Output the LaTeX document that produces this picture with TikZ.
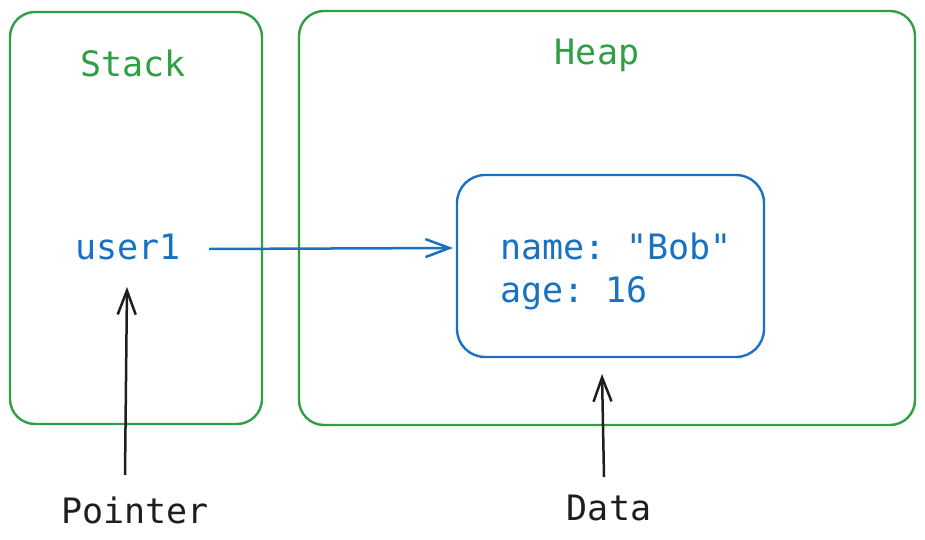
\documentclass[tikz,border=0pt]{standalone}
\usepackage{fontspec}
\setmonofont{DejaVu Sans Mono}
\usetikzlibrary{arrows.meta}
\definecolor{exgreen}{HTML}{2F9E44}
\definecolor{exblue}{HTML}{1971C2}
\definecolor{exblack}{HTML}{1E1E1E}
\tikzset{
  region/.style={draw=exgreen, line width=2.4pt, rounded corners=25pt},
  recbox/.style={draw=exblue, line width=2.4pt, rounded corners=28pt},
  lbl/.style={font=\ttfamily\fontsize{35}{43}\selectfont, inner sep=0pt},
  conn/.style={line width=2.5pt, -{Straight Barb[length=24pt,width=18pt,line width=2.5pt]}}
}
\begin{document}
\begin{tikzpicture}[x=1pt,y=-1pt]
\useasboundingbox (0,0) rectangle (925,540);
\draw[region] (10,12) rectangle (262,424);
\draw[region] (299,11) rectangle (915,425);
\draw[recbox] (457,175) rectangle (764,357);
\node[lbl, text=exgreen] (stack) at (133,63) {Stack};
\node[lbl, text=exgreen] (heap) at (597,55) {Heap};
\node[lbl, text=exblue] (user) at (128,247) {user1};
\node[lbl, text=exblue, align=left, anchor=west] (rec) at (500,271) {name: "Bob"\\age: 16};
\node[lbl, text=exblack] (pointer) at (135,510) {Pointer};
\node[lbl, text=exblack] (data) at (609,508) {Data};
\coordinate (ua) at (209,249);
\coordinate (rb) at (453,248);
\coordinate (pa) at (125,475);
\coordinate (pb) at (127,287);
\coordinate (da) at (604,477);
\coordinate (db) at (602,374);
\draw[conn, draw=exblue] (ua) -- (rb);
\draw[conn, draw=exblack] (pa) -- (pb);
\draw[conn, draw=exblack] (da) -- (db);
\end{tikzpicture}
\end{document}
